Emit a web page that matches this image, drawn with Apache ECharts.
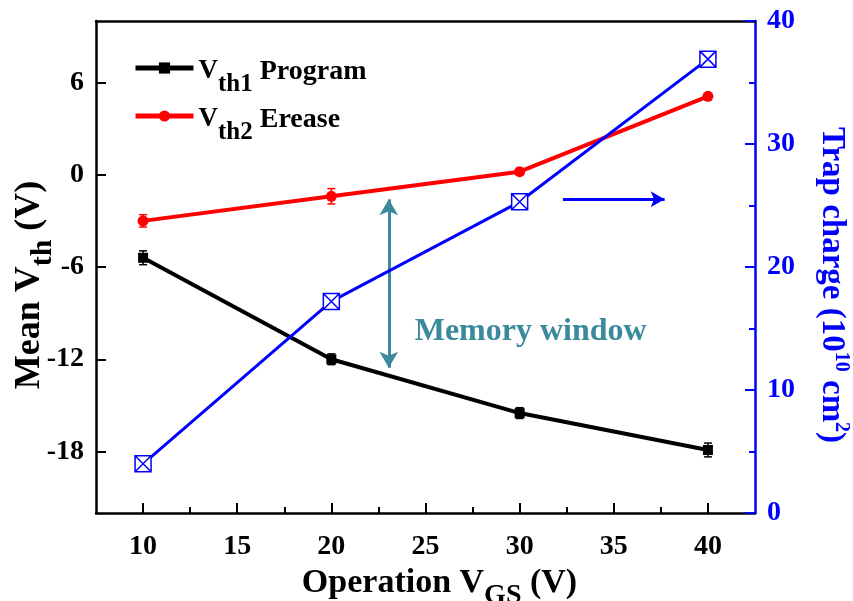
<!DOCTYPE html>
<html>
<head>
<meta charset="utf-8">
<script src="https://cdn.jsdelivr.net/npm/echarts@6/dist/echarts.min.js"></script>
<style>
html,body{margin:0;padding:0;background:#fff;}
#chart{width:853px;height:601px;}
</style>
</head>
<body>
<div id="chart"></div>
<script>
// ---- data ----
const xValues = [10, 20, 30, 40];
const vth1Program = [-5.4, -12.0, -15.5, -17.9];
const vth1Err = [0.45, 0.35, 0.35, 0.45];
const vth2Erase = [-3.0, -1.4, 0.2, 5.1];
const vth2Err = [0.4, 0.5, 0.2, 0.15];
const trapCharge = [4.0, 17.2, 25.3, 36.9];

const xTicks = [10, 15, 20, 25, 30, 35, 40];
const xMinorTicks = [12.5, 17.5, 22.5, 27.5, 32.5, 37.5];
const leftTicks = [-18, -12, -6, 0, 6];
const leftMinorTicks = [-21, -15, -9, -3, 3, 9];
const rightTicks = [0, 10, 20, 30, 40];

// annotation anchors (data coordinates)
const memArrowX = 23.05;
const memArrowRange = [-1.6, -12.55];
const memTextPos = [24.4, -10.2];
const trapArrowRange = [32.3, 37.7];
const trapArrowY = 25.5;

const FONT = 'Liberation Serif';
const TEAL = '#3a8a9c';

const chart = echarts.init(document.getElementById('chart'), null, {renderer: 'canvas'});

function errBarSeries(name, vals, errs, color) {
  return {
    type: 'custom',
    name: name + ' err',
    xAxisIndex: 0, yAxisIndex: 0,
    z: 5,
    silent: true,
    data: xValues.map((x, i) => [x, vals[i] - errs[i], vals[i] + errs[i]]),
    encode: {x: 0, y: [1, 2]},
    renderItem: function (params, api) {
      const x = api.value(0);
      const p1 = api.coord([x, api.value(2)]);
      const p2 = api.coord([x, api.value(1)]);
      const w = 4;
      const st = {stroke: color, lineWidth: 1.5};
      return {type: 'group', children: [
        {type: 'line', shape: {x1: p1[0], y1: p1[1], x2: p2[0], y2: p2[1]}, style: st},
        {type: 'line', shape: {x1: p1[0] - w, y1: p1[1], x2: p1[0] + w, y2: p1[1]}, style: st},
        {type: 'line', shape: {x1: p2[0] - w, y1: p2[1], x2: p2[0] + w, y2: p2[1]}, style: st}
      ]};
    }
  };
}

const tickFont = {fontFamily: FONT, fontWeight: 'bold', fontSize: 28};

const option = {
  backgroundColor: '#fff',
  animation: false,
  grid: {left: 96, right: 98, top: 21, bottom: 88, containLabel: false, outerBoundsMode: 'none'},
  legend: {
    orient: 'vertical',
    left: 128, top: 49,
    itemWidth: 58, itemHeight: 14,
    itemGap: 5,
    data: ['Vth1 Program', 'Vth2 Erease'],
    lineStyle: {width: 5},
    formatter: function (name) {
      return name === 'Vth1 Program'
        ? '{v|V}{s|th1}{p| Program}'
        : '{v|V}{s|th2}{p| Erease}';
    },
    textStyle: {
      color: '#000',
      rich: {
        v: {fontFamily: FONT, fontWeight: 'bold', fontSize: 27, lineHeight: 28, padding: [4, 0, 0, 0], verticalAlign: 'top', color: '#000'},
        s: {fontFamily: FONT, fontWeight: 'bold', fontSize: 25, lineHeight: 24, padding: [18, 0, 0, 0], verticalAlign: 'top', color: '#000'},
        p: {fontFamily: FONT, fontWeight: 'bold', fontSize: 28, lineHeight: 28, padding: [4, 0, 0, 0], verticalAlign: 'top', color: '#000'}
      }
    }
  },
  xAxis: [
    {
      type: 'value', position: 'bottom', min: 7.5, max: 42.5,
      axisLine: {show: true, onZero: false, lineStyle: {color: '#000', width: 2.5}},
      axisTick: {show: true, inside: true, length: 10, customValues: xTicks, lineStyle: {color: '#000', width: 2}},
      axisLabel: Object.assign({color: '#000', margin: 20, customValues: xTicks}, tickFont),
      splitLine: {show: false},
      name: '{a|Operation V}{s|GS}{a| (V)}',
      nameLocation: 'middle', nameGap: 50,
      nameTextStyle: {
        padding: [0, 0, 0, 28],
        rich: {
          a: {fontFamily: FONT, fontWeight: 'bold', fontSize: 34, lineHeight: 36, verticalAlign: 'top', color: '#000'},
          s: {fontFamily: FONT, fontWeight: 'bold', fontSize: 28, lineHeight: 28, padding: [16, 0, 0, 0], verticalAlign: 'top', color: '#000'}
        }
      }
    },
    {
      type: 'value', position: 'bottom', min: 7.5, max: 42.5,
      axisLine: {show: false, onZero: false},
      axisTick: {show: true, inside: true, length: 6, customValues: xMinorTicks, lineStyle: {color: '#000', width: 2}},
      axisLabel: {show: false},
      splitLine: {show: false}
    },
    {
      type: 'value', position: 'top', min: 7.5, max: 42.5,
      axisLine: {show: true, onZero: false, lineStyle: {color: '#000', width: 2.5}},
      axisTick: {show: false}, axisLabel: {show: false}, splitLine: {show: false}
    }
  ],
  yAxis: [
    {
      type: 'value', position: 'left', min: -22, max: 10,
      axisLine: {show: true, onZero: false, lineStyle: {color: '#000', width: 2.5}},
      axisTick: {show: true, inside: true, length: 10, customValues: leftTicks, lineStyle: {color: '#000', width: 2}},
      axisLabel: Object.assign({color: '#000', margin: 12, customValues: leftTicks}, tickFont),
      splitLine: {show: false},
      name: '{a|Mean V}{s|th}{a| (V)}',
      nameLocation: 'middle', nameGap: 46, nameRotate: 90,
      nameMoveOverlap: false,
      nameTextStyle: {
        padding: [0, 36, 0, 0],
        rich: {
          a: {fontFamily: FONT, fontWeight: 'bold', fontSize: 36, lineHeight: 38, verticalAlign: 'top', color: '#000'},
          s: {fontFamily: FONT, fontWeight: 'bold', fontSize: 30, lineHeight: 28, padding: [16, 0, 0, 0], verticalAlign: 'top', color: '#000'}
        }
      }
    },
    {
      type: 'value', position: 'right', min: 0, max: 40, interval: 10,
      axisLine: {show: true, onZero: false, lineStyle: {color: '#0000ff', width: 2.5}},
      axisTick: {show: true, inside: true, length: 10, lineStyle: {color: '#0000ff', width: 2}},
      minorTick: {show: true, splitNumber: 2, length: 6, lineStyle: {color: '#0000ff', width: 2}},
      axisLabel: Object.assign({color: '#0000ff', margin: 12}, tickFont),
      splitLine: {show: false},
      name: '{a|Trap charge (10}{sup|10}{a| cm}{sup|2}{a|)}',
      nameLocation: 'middle', nameGap: 60, nameRotate: -90,
      nameTextStyle: {
        padding: [0, 0, 0, 36],
        rich: {
          a: {fontFamily: FONT, fontWeight: 'bold', fontSize: 33, lineHeight: 36, verticalAlign: 'bottom', color: '#0000ff'},
          sup: {fontFamily: FONT, fontWeight: 'bold', fontSize: 20, lineHeight: 20, verticalAlign: 'top', color: '#0000ff'}
        }
      }
    }
  ],
  series: [
    errBarSeries('Vth1', vth1Program, vth1Err, '#000'),
    errBarSeries('Vth2', vth2Erase, vth2Err, '#ff0000'),
    {
      name: 'Vth1 Program', type: 'line', xAxisIndex: 0, yAxisIndex: 0,
      data: xValues.map((x, i) => [x, vth1Program[i]]),
      symbol: 'rect', symbolSize: 10, z: 6,
      lineStyle: {color: '#000', width: 4},
      itemStyle: {color: '#000'}
    },
    {
      name: 'Vth2 Erease', type: 'line', xAxisIndex: 0, yAxisIndex: 0,
      data: xValues.map((x, i) => [x, vth2Erase[i]]),
      symbol: 'circle', symbolSize: 11, z: 6,
      lineStyle: {color: '#ff0000', width: 4},
      itemStyle: {color: '#ff0000'},
      markLine: {
        silent: true,
        symbol: ['arrow', 'arrow'], symbolSize: [14, 16],
        label: {show: false},
        lineStyle: {color: TEAL, width: 3, type: 'solid'},
        data: [[{coord: [memArrowX, memArrowRange[0]]}, {coord: [memArrowX, memArrowRange[1]]}]]
      },
      markPoint: {
        silent: true,
        symbol: 'circle', symbolSize: 1,
        itemStyle: {color: 'rgba(0,0,0,0)'},
        label: {show: true, position: 'right', distance: 0, color: TEAL, fontFamily: FONT, fontWeight: 'bold', fontSize: 32,
          formatter: 'Memory window'},
        data: [{coord: memTextPos}]
      }
    },
    {
      name: 'Trap charge', type: 'line', xAxisIndex: 0, yAxisIndex: 1,
      data: xValues.map((x, i) => [x, trapCharge[i]]),
      symbol: 'path://M0,0L10,0L10,10L0,10Z M0,0L10,10 M10,0L0,10',
      symbolSize: 16, z: 7,
      lineStyle: {color: '#0000ff', width: 3},
      itemStyle: {color: '#ffffff', borderColor: '#0000ff', borderWidth: 1.5},
      markLine: {
        silent: true,
        symbol: ['none', 'arrow'], symbolSize: [12, 14],
        label: {show: false},
        lineStyle: {color: '#0000ff', width: 3, type: 'solid'},
        data: [[{coord: [trapArrowRange[0], trapArrowY]}, {coord: [trapArrowRange[1], trapArrowY]}]]
      }
    }
  ]
};
chart.setOption(option);
</script>
</body>
</html>
